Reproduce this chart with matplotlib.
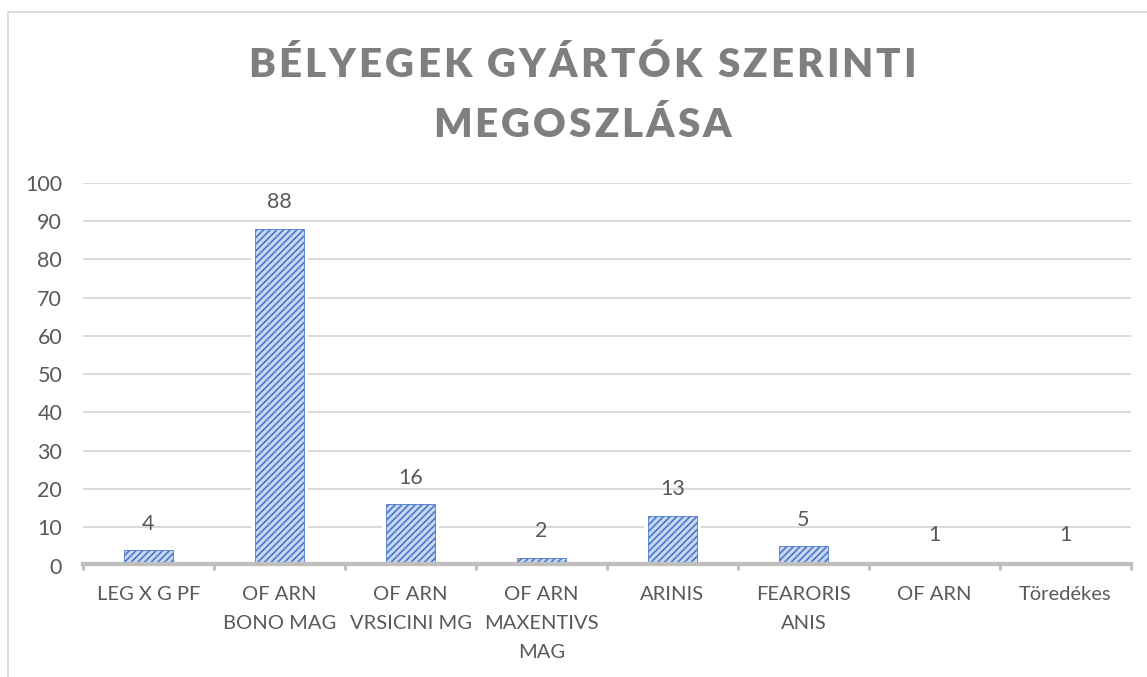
import numpy as np
import matplotlib.pyplot as plt
from matplotlib.patches import Rectangle

# ---------------------------------------------------------------
# data
# ---------------------------------------------------------------
categories = [
    "LEG X G PF",
    "OF ARN\nBONO MAG",
    "OF ARN\nVRSICINI MG",
    "OF ARN\nMAXENTIVS\nMAG",
    "ARINIS",
    "FEARORIS\nANIS",
    "OF ARN",
    "Töredékes",
]
counts = [4, 88, 16, 2, 13, 5, 1, 1]
y_ticks = [0, 10, 20, 30, 40, 50, 60, 70, 80, 90, 100]
title_lines = ["BÉLYEGEK GYÁRTÓK SZERINTI", "MEGOSZLÁSA"]

# ---------------------------------------------------------------
# style
# ---------------------------------------------------------------
plt.rcParams['font.family'] = ['Lato', 'DejaVu Sans']
plt.rcParams['hatch.linewidth'] = 1.2

W, H = 1147, 677
text_col = "#595959"
grid_col = "#d9d9d9"
axis_col = "#bfbfbf"
bar_fill = "#c9d7f1"
bar_line = "#4a78cc"

fig = plt.figure(figsize=(W / 100, H / 100), dpi=100)
ax = fig.add_axes([83 / W, 1 - 565.5 / H, (1131 - 83) / W, (565.5 - 182.7) / H])

x = np.arange(len(categories))
bw = 0.374

# white halo behind bars (cuts the gridlines like Excel does)
ax.bar(x, counts, width=bw, color="white", edgecolor="white",
       linewidth=5.5, zorder=2)
bars = ax.bar(x, counts, width=bw, color=bar_fill, edgecolor=bar_line,
              linewidth=0.6, hatch="/////", zorder=3)

for xi, v in zip(x, counts):
    ax.annotate(f"{v}", (xi, v), xytext=(0, 19), textcoords="offset points",
                ha="center", va="center", fontsize=15.5, color=text_col)

ax.set_xlim(-0.5, len(categories) - 0.5)
ax.set_ylim(0, 100)
ax.set_yticks(y_ticks)
ax.yaxis.grid(True, color=grid_col, linewidth=1.4, zorder=0)
ax.set_axisbelow(True)

# category labels (drawn as text so the line spacing sticks)
ax.set_xticks([])
ax.set_xticks(np.arange(-0.5, len(categories)), minor=True)
ax.tick_params(axis="x", which="minor", length=4.5, width=2.2,
               color=axis_col, direction="out")
for xi, lab in zip(x, categories):
    ax.annotate(lab, (xi, 0), xycoords=("data", "axes fraction"),
                xytext=(0, -15), textcoords="offset points",
                ha="center", va="top", fontsize=14.5, color=text_col,
                linespacing=1.85)

ax.tick_params(axis="y", length=0, pad=15, labelsize=15.5, labelcolor=text_col)

for s in ["top", "right", "left"]:
    ax.spines[s].set_visible(False)
ax.spines["bottom"].set_color(axis_col)
ax.spines["bottom"].set_linewidth(3.1)
ax.spines["bottom"].set_position(("outward", -1.2))
ax.spines["bottom"].set_zorder(5)

# outer chart frame
fig.patches.append(Rectangle((8 / W, -0.2), 1.2, 1.2 - 12 / H,
                             transform=fig.transFigure, fill=False,
                             edgecolor=grid_col, linewidth=1.3))

# ---------------------------------------------------------------
# title with letter spacing
# ---------------------------------------------------------------
renderer = fig.canvas.get_renderer()
tprops = dict(fontsize=29, fontweight="heavy", color="#7f7f7f")


def glyph_w(ch):
    t = fig.text(0, 0, ch, **tprops)
    w = t.get_window_extent(renderer).width
    t.remove()
    return w


space_w = glyph_w("I I") - glyph_w("II")
line_widths = []
for line in title_lines:
    line_widths.append([space_w if c == " " else glyph_w(c) for c in line])

spacing = (668 - sum(line_widths[0])) / (len(title_lines[0]) - 1)
baselines = [77, 137]
x_center = 582

for line, ws, yb in zip(title_lines, line_widths, baselines):
    total = sum(ws) + spacing * (len(line) - 1)
    xp = x_center - total / 2
    for c, w in zip(line, ws):
        if c != " ":
            fig.text(xp / W, 1 - yb / H, c, ha="left", va="baseline", **tprops)
        xp += w + spacing

fig.savefig("out.png", dpi=100)
